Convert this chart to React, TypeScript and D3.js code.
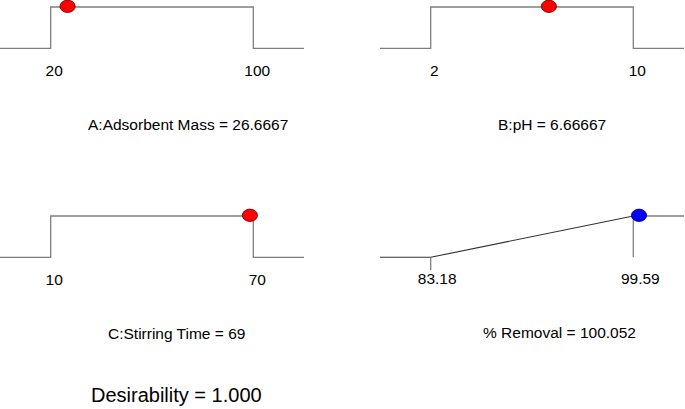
import React from "react";
import * as d3 from "d3";

const factorNames = ["A:Adsorbent Mass", "B:pH", "C:Stirring Time"];
const factorLows = [20, 2, 10];
const factorHighs = [100, 10, 70];
const factorValues = [26.6667, 6.66667, 69];
const factorValueLabels = ["26.6667", "6.66667", "69"];
const factorLowLabels = ["20", "2", "10"];
const factorHighLabels = ["100", "10", "70"];

const responseName = "% Removal";
const responseLow = 83.18;
const responseHigh = 99.59;
const responseValue = 100.052;
const responseValueLabel = "100.052";
const responseLowLabel = "83.18";
const responseHighLabel = "99.59";

const desirabilityLabel = "Desirability = 1.000";

const W = 685;
const H = 409;
const FONT = "'Liberation Sans', Arial, Helvetica, sans-serif";
const GRAY = "#7f7f7f";
const DARK = "#333333";

// panel origins
const panelOrigins = [
  { x: 0, y: 0 },
  { x: 380, y: 0 },
  { x: 0, y: 209 },
  { x: 380, y: 209 },
];
const titleStarts = [88, 498, 108, 483];

const PANEL_W = 304;
const IN_L = 50.7;
const IN_R = 253.3;
const TOP = 7;
const BASE = 48.3;

function FactorPanel({ i }: { i: number }) {
  const o = panelOrigins[i];
  const x = d3.scaleLinear().domain([factorLows[i], factorHighs[i]]).range([o.x + IN_L, o.x + IN_R]);
  const top = o.y + TOP;
  const base = o.y + BASE;
  const path = d3.line()([
    [o.x, base],
    [x(factorLows[i]), base],
    [x(factorLows[i]), top],
    [x(factorHighs[i]), top],
    [x(factorHighs[i]), base],
    [o.x + PANEL_W, base],
  ]) as string;
  return (
    <g>
      <path d={path} fill="none" stroke={GRAY} strokeWidth={1.3} />
      <ellipse cx={x(factorValues[i])} cy={top - 0.7} rx={7.6} ry={6.2} fill="#ff0000" stroke="#5a0000" strokeWidth={0.8} />
      <text x={x(factorLows[i]) + 3.5} y={o.y + 76} textAnchor="middle" fontSize={15.5} fontFamily={FONT} fill="#000">
        {factorLowLabels[i]}
      </text>
      <text x={x(factorHighs[i]) + 4} y={o.y + 76} textAnchor="middle" fontSize={15.5} fontFamily={FONT} fill="#000">
        {factorHighLabels[i]}
      </text>
      <text x={titleStarts[i]} y={o.y + 130} fontSize={15.5} fontFamily={FONT} fill="#000">
        {`${factorNames[i]} = ${factorValueLabels[i]}`}
      </text>
    </g>
  );
}

function ResponsePanel() {
  const o = panelOrigins[3];
  const x = d3.scaleLinear().domain([responseLow, responseHigh]).range([o.x + IN_L, o.x + IN_R]);
  const top = o.y + TOP;
  const base = o.y + BASE;
  const line = d3.line();
  return (
    <g>
      <path d={line([[o.x, base], [x(responseLow), base]]) as string} fill="none" stroke={DARK} strokeWidth={1.1} />
      <path d={line([[x(responseLow), base], [x(responseLow), base + 13]]) as string} fill="none" stroke={GRAY} strokeWidth={1.3} />
      <path d={line([[x(responseLow), base], [x(responseHigh), top]]) as string} fill="none" stroke={DARK} strokeWidth={1.1} />
      <path d={line([[x(responseHigh), top], [x(responseHigh), base]]) as string} fill="none" stroke={GRAY} strokeWidth={1.3} />
      <path d={line([[x(responseHigh), top], [o.x + PANEL_W, top]]) as string} fill="none" stroke={GRAY} strokeWidth={1.3} />
      <ellipse cx={x(responseValue)} cy={top - 0.7} rx={7.6} ry={6.2} fill="#0000ff" stroke="#00005a" strokeWidth={0.8} />
      <text x={x(responseLow) + 6.5} y={o.y + 75} textAnchor="middle" fontSize={15.5} fontFamily={FONT} fill="#000">
        {responseLowLabel}
      </text>
      <text x={x(responseHigh) + 7} y={o.y + 75} textAnchor="middle" fontSize={15.5} fontFamily={FONT} fill="#000">
        {responseHighLabel}
      </text>
      <text x={titleStarts[3]} y={o.y + 129} fontSize={15.5} fontFamily={FONT} fill="#000">
        {`${responseName} = ${responseValueLabel}`}
      </text>
    </g>
  );
}

export default function App() {
  return (
    <div style={{ position: "absolute", left: 0, top: 0 }}>
      <svg width={W} height={H} style={{ display: "block", background: "#fff" }}>
        <rect width={W} height={H} fill="#fff" />
        {factorNames.map((_, i) => (
          <FactorPanel key={i} i={i} />
        ))}
        <ResponsePanel />
        <text x={91} y={402} fontSize={20} fontFamily={FONT} fill="#000">
          {desirabilityLabel}
        </text>
      </svg>
    </div>
  );
}
